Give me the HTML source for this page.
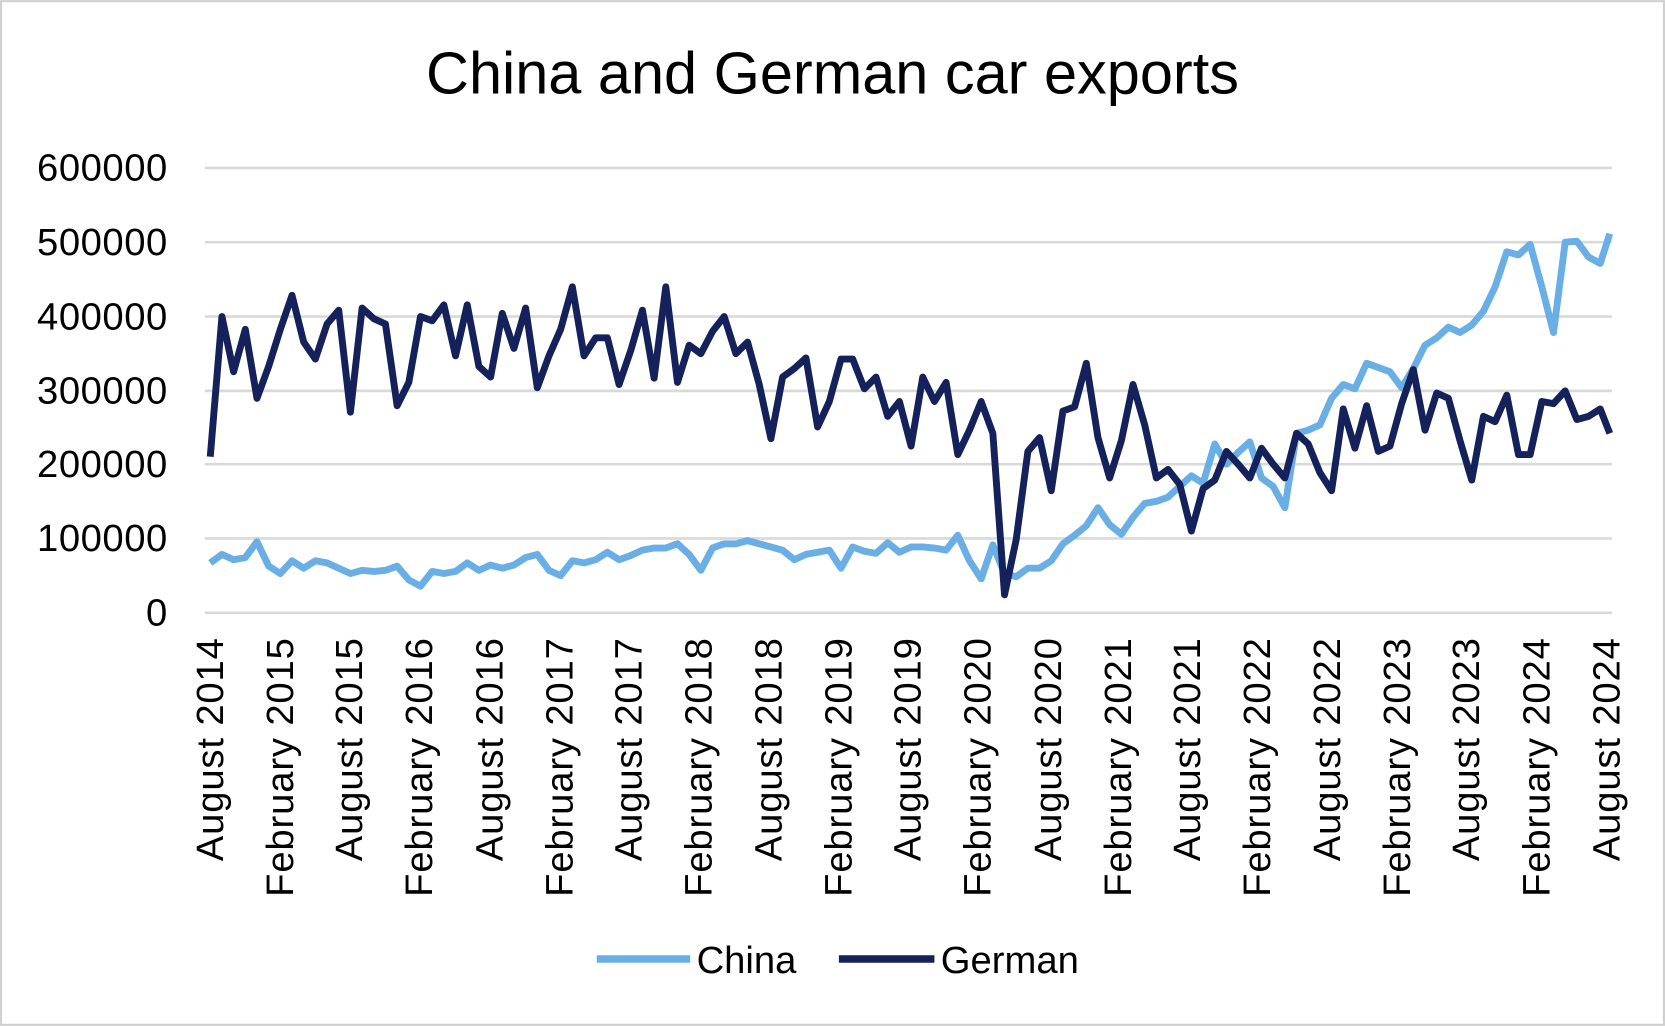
<!DOCTYPE html>
<html><head><meta charset="utf-8"><style>
html,body{margin:0;padding:0;background:#fff}
svg{display:block}
text{font-family:"Liberation Sans",sans-serif;fill:#000}
</style></head><body>
<svg width="1665" height="1026" viewBox="0 0 1568 966" xmlns="http://www.w3.org/2000/svg">
<rect x="1" y="1" width="1566" height="964" fill="#fff" stroke="#d0d0d0" stroke-width="2"/>
<text x="784" y="88" font-size="56" text-anchor="middle">China and German car exports</text>
<g stroke="#d9d9d9" stroke-width="2.5">
<line x1="193" y1="158" x2="1518" y2="158"/><line x1="193" y1="228" x2="1518" y2="228"/>
<line x1="193" y1="298" x2="1518" y2="298"/><line x1="193" y1="368" x2="1518" y2="368"/>
<line x1="193" y1="437" x2="1518" y2="437"/><line x1="193" y1="507" x2="1518" y2="507"/>
<line x1="193" y1="577" x2="1518" y2="577"/>
</g>
<g font-size="36" text-anchor="end" letter-spacing="0.5">
<text x="158" y="170">600000</text><text x="158" y="240">500000</text><text x="158" y="310">400000</text>
<text x="158" y="380">300000</text><text x="158" y="449">200000</text><text x="158" y="519">100000</text>
<text x="158" y="589">0</text>
</g>
<g font-size="36" text-anchor="end" letter-spacing="0.8">
<text transform="translate(210,600) rotate(-90)">August 2014</text>
<text transform="translate(276,600) rotate(-90)">February 2015</text>
<text transform="translate(341,600) rotate(-90)">August 2015</text>
<text transform="translate(407,600) rotate(-90)">February 2016</text>
<text transform="translate(473,600) rotate(-90)">August 2016</text>
<text transform="translate(539,600) rotate(-90)">February 2017</text>
<text transform="translate(604,600) rotate(-90)">August 2017</text>
<text transform="translate(670,600) rotate(-90)">February 2018</text>
<text transform="translate(736,600) rotate(-90)">August 2018</text>
<text transform="translate(802,600) rotate(-90)">February 2019</text>
<text transform="translate(867,600) rotate(-90)">August 2019</text>
<text transform="translate(933,600) rotate(-90)">February 2020</text>
<text transform="translate(999,600) rotate(-90)">August 2020</text>
<text transform="translate(1065,600) rotate(-90)">February 2021</text>
<text transform="translate(1130,600) rotate(-90)">August 2021</text>
<text transform="translate(1196,600) rotate(-90)">February 2022</text>
<text transform="translate(1262,600) rotate(-90)">August 2022</text>
<text transform="translate(1328,600) rotate(-90)">February 2023</text>
<text transform="translate(1393,600) rotate(-90)">August 2023</text>
<text transform="translate(1459,600) rotate(-90)">February 2024</text>
<text transform="translate(1525,600) rotate(-90)">August 2024</text>
</g>
<polyline fill="none" stroke="#6aaee6" stroke-width="6.5" stroke-linejoin="round" points="198,530 209,522 220,527 231,525 242,510 253,533 264,540 275,528 286,535 297,528 308,530 319,535 330,540 341,537 352,538 363,537 374,533 385,546 396,552 407,538 418,540 429,538 440,530 451,537 462,532 473,535 484,532 495,525 506,522 517,537 528,542 539,528 550,530 561,527 572,520 583,527 594,523 605,518 616,516 627,516 638,512 649,522 660,537 671,516 682,512 693,512 704,509 715,512 726,515 737,518 748,527 759,522 770,520 781,518 792,535 803,515 814,519 825,521 836,511 847,520 858,515 869,515 880,516 891,518 902,504 913,528 924,545 935,513 946,540 957,543 968,535 979,535 990,528 1001,512 1012,504 1023,495 1034,478 1045,494 1056,503 1067,487 1078,474 1089,472 1100,468 1111,458 1122,448 1133,455 1144,418 1155,437 1166,426 1177,416 1188,450 1199,458 1210,478 1221,408 1232,405 1243,400 1254,375 1265,362 1276,366 1287,342 1298,346 1309,350 1320,365 1331,347 1342,325 1353,318 1364,308 1375,313 1386,306 1397,293 1408,270 1419,237 1430,240 1441,230 1452,270 1463,313 1474,228 1485,227 1496,242 1507,248 1516,220"/>
<polyline fill="none" stroke="#14215a" stroke-width="6.5" stroke-linejoin="round" points="198,430 209,298 220,350 231,310 242,375 253,345 264,310 275,278 286,322 297,338 308,305 319,292 330,388 341,290 352,300 363,305 374,382 385,360 396,298 407,302 418,287 429,335 440,287 451,345 462,355 473,295 484,328 495,290 506,365 517,335 528,310 539,270 550,335 561,318 572,318 583,362 594,330 605,292 616,356 627,270 638,360 649,325 660,333 671,312 682,298 693,333 704,322 715,362 726,413 737,355 748,347 759,337 770,402 781,378 792,338 803,338 814,366 825,355 836,392 847,378 858,420 869,355 880,378 891,360 902,428 913,405 924,378 935,408 946,560 957,508 968,425 979,412 990,462 1001,387 1012,383 1023,342 1034,412 1045,450 1056,415 1067,362 1078,400 1089,450 1100,442 1111,456 1122,500 1133,460 1144,452 1155,425 1166,437 1177,450 1188,422 1199,437 1210,450 1221,408 1232,418 1243,445 1254,462 1265,385 1276,422 1287,382 1298,425 1309,420 1320,380 1331,348 1342,405 1353,370 1364,375 1375,415 1386,452 1397,392 1408,397 1419,372 1430,428 1441,428 1452,378 1463,380 1474,368 1485,395 1496,392 1507,385 1516,408"/>
<line x1="562" y1="903" x2="650" y2="903" stroke="#6aaee6" stroke-width="7"/>
<text x="656" y="916" font-size="36">China</text>
<line x1="790" y1="903" x2="880" y2="903" stroke="#14215a" stroke-width="7"/>
<text x="886" y="916" font-size="36">German</text>
</svg>
</body></html>
